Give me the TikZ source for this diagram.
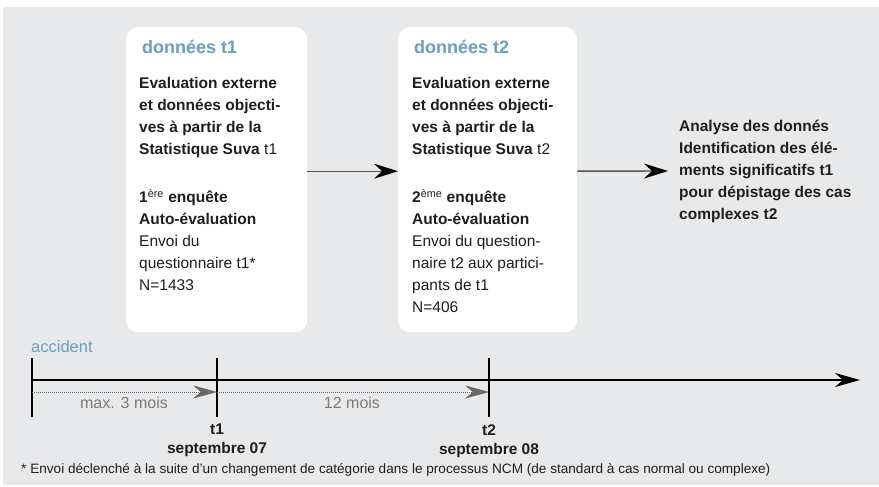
\documentclass[tikz,border=0pt]{standalone}
\usepackage{fontspec}
\setmainfont{Liberation Sans}
\usetikzlibrary{arrows.meta}
\definecolor{bggray}{HTML}{E8E9EB}
\definecolor{titleblue}{HTML}{6A9FBD}
\definecolor{ink}{HTML}{1E1E1E}
\definecolor{labelgray}{HTML}{7A7A7A}
\definecolor{conngray}{HTML}{555555}
\definecolor{headgray}{HTML}{666666}
\begin{document}
\begin{tikzpicture}[x=1pt,y=-1pt,
  box/.style={fill=white, rounded corners=12pt, anchor=north west, inner sep=0pt},
  titletext/.style={font=\fontsize{18}{22}\selectfont\bfseries, text=titleblue, anchor=west, inner sep=0pt},
  bodytext/.style={font=\fontsize{15.5}{22}\selectfont, text=ink, align=left, anchor=north west, inner sep=0pt},
  conn/.style={draw=conngray, line width=1.4pt, -{Stealth[length=24pt,width=15pt,inset=8pt,color=black]}},
  timeline/.style={draw=black, line width=1.2pt},
  dotline/.style={draw=headgray, line width=0.7pt, dash pattern=on 1pt off 1pt, -{Stealth[length=24pt,width=13pt,inset=8pt,color=headgray]}},
  graylabel/.style={font=\fontsize{16}{19}\selectfont, text=labelgray, inner sep=0pt},
  datelabel/.style={font=\fontsize{15.5}{19}\selectfont\bfseries, text=ink, align=center, inner sep=0pt, anchor=north}
]
\useasboundingbox (0,0) rectangle (879,487);
\fill[bggray] (3,7) rectangle (879,485);

% boxes
\node[box, minimum width=181pt, minimum height=305pt] (b1) at (126,27) {};
\node[box, minimum width=179pt, minimum height=305pt] (b2) at (398,27) {};

\node[titletext] (h1) at (142,47) {données t1};
\node[titletext] (h2) at (414,47) {données t2};

\node[bodytext] (txt1) at (139,77) {\textbf{Evaluation externe}\\
\textbf{et données objecti-}\\
\textbf{ves à partir de la}\\
\textbf{Statistique Suva} t1\\[26pt]
\textbf{1}\textsuperscript{ère} \textbf{enquête}\\
\textbf{Auto-évaluation}\\
Envoi du\\
questionnaire t1*\\
N=1433};

\node[bodytext] (txt2) at (412,77) {\textbf{Evaluation externe}\\
\textbf{et données objecti-}\\
\textbf{ves à partir de la}\\
\textbf{Statistique Suva} t2\\[26pt]
\textbf{2}\textsuperscript{ème} \textbf{enquête}\\
\textbf{Auto-évaluation}\\
Envoi du question-\\
naire t2 aux partici-\\
pants de t1\\
N=406};

\node[font=\fontsize{15.5}{22}\selectfont\bfseries, text=ink, align=left, anchor=west, inner xsep=11pt, inner ysep=0pt] (ana) at (668,171) {Analyse des donnés\\
Identification des élé-\\
ments significatifs t1\\
pour dépistage des cas\\
complexes t2};

\draw[conn] ([yshift=8.5pt]b1.east) -- ([yshift=8.5pt]b2.west);
\draw[conn] ([yshift=8.5pt]b2.east) -- (ana.west);

% timeline
\coordinate (acc) at (32,380);
\coordinate (t1) at (217,380);
\coordinate (t2) at (489,380);
\coordinate (tend) at (860,380);
\node[font=\fontsize{16.5}{19}\selectfont, text=titleblue, anchor=west, inner sep=0pt] (acclab) at (31,347) {accident};

\draw[timeline, -{Stealth[length=25pt,width=14pt,inset=8pt]}] (acc) -- (tend);
\draw[timeline] ([yshift=22pt]acc) -- ([yshift=-37pt]acc);
\draw[timeline] ([yshift=22pt]t1) -- ([yshift=-37pt]t1);
\draw[timeline] ([yshift=22pt]t2) -- ([yshift=-37pt]t2);

\draw[dotline] ([yshift=-12pt]acc) -- ([yshift=-12pt]t1);
\draw[dotline] ([yshift=-12pt]t1) -- ([yshift=-12pt]t2);

\node[graylabel] (m3) at (124,403) {max. 3 mois};
\node[graylabel] (m12) at (352,403) {12 mois};

\node[datelabel] (d1) at (217,424) {t1\\septembre 07};
\node[datelabel] (d2) at (489,424) {t2\\septembre 08};

\node[font=\fontsize{13.6}{15}\selectfont, text=ink, anchor=west, inner sep=0pt] (foot) at (21,470) {* Envoi déclenché à la suite d’un changement de catégorie dans le processus NCM (de standard à cas normal ou complexe)};
\end{tikzpicture}
\end{document}
